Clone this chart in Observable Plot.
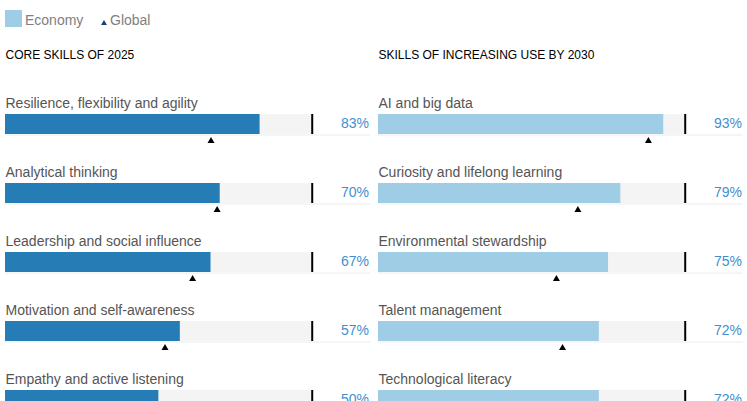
<!DOCTYPE html>
<html><head><meta charset="utf-8">
<script src="https://cdn.jsdelivr.net/npm/d3@7"></script>
<script src="https://cdn.jsdelivr.net/npm/@observablehq/plot@0.6"></script>
<style>
html,body{margin:0;padding:0;background:#fff;overflow:hidden;width:747px;height:401px}
body{font-family:"Liberation Sans",Arial,Helvetica,sans-serif}
#legend{position:relative;height:36px}
#legend .sw{position:absolute;left:5px;top:10px;width:17px;height:17px;background:#a0cde6}
#legend .lab{position:absolute;top:13px;font-size:14px;line-height:14px;color:#808080;white-space:nowrap}
#legend svg{position:absolute;left:100px;top:19px}
#charts{display:flex;position:relative;height:365px;overflow:hidden}
#charts svg{display:block;flex:none}
</style></head><body>
<div id="legend">
  <div class="sw"></div>
  <div class="lab" style="left:25px">Economy</div>
  <svg width="8" height="7" viewBox="0 0 8 7"><path d="M4 1 L7 6 L1 6 Z" fill="#1d3f73"/></svg>
  <div class="lab" style="left:110px">Global</div>
</div>
<div id="charts"></div>
<script>
// ---- data ----
const coreTitle = "CORE SKILLS OF 2025";
const coreSkills = [
  "Resilience, flexibility and agility",
  "Analytical thinking",
  "Leadership and social influence",
  "Motivation and self-awareness",
  "Empathy and active listening"
];
const coreEconomy = [83, 70, 67, 57, 50];
const coreGlobal = [67, 69, 61, 52, null];

const increasingTitle = "SKILLS OF INCREASING USE BY 2030";
const increasingSkills = [
  "AI and big data",
  "Curiosity and lifelong learning",
  "Environmental stewardship",
  "Talent management",
  "Technological literacy"
];
const increasingEconomy = [93, 79, 75, 72, 72];
const increasingGlobal = [88, 65, 58, 60, null];

const fullScale = 100;

function panel(title, skills, economy, global, color, width, marginRight) {
  const rows = skills.map((s, i) => ({rank: i + 1, skill: s, value: economy[i], global: global[i]}));
  const inset = {insetTop: 22, insetBottom: 27};
  return Plot.plot({
    width, height: 365,
    marginLeft: 5, marginRight, marginTop: 56, marginBottom: 0,
    x: {domain: [0, 119], axis: null},
    y: {type: "band", domain: rows.map(d => d.rank), range: [56, 401], padding: 0, axis: null},
    style: {fontFamily: '"Liberation Sans", Arial, Helvetica, sans-serif', background: "white", overflow: "hidden"},
    marks: [
      Plot.text([title], {frameAnchor: "top-left", lineAnchor: "middle", dy: -37, fontSize: 12, fill: "#000"}),
      Plot.ruleY(rows, {y: "rank", dy: 8, stroke: "#ececec", strokeWidth: 1}),
      Plot.barX(rows, {y: "rank", x1: d => 0, x2: d => fullScale, fill: "#f4f4f4", ...inset}),
      Plot.barX(rows, {y: "rank", x: "value", fill: color, ...inset}),
      Plot.tickX(rows, {y: "rank", x: d => fullScale, stroke: "#000", strokeWidth: 2, ...inset}),
      Plot.text(rows, {y: "rank", x: d => 0, text: "skill", textAnchor: "start", dy: -23.7, fontSize: 14, fill: "#555"}),
      Plot.text(rows, {y: "rank", frameAnchor: "right", text: d => d.value + "%", textAnchor: "end", dx: -1.5, dy: -3.7, fontSize: 14, fill: "#3f8fcf"}),
      Plot.dot(rows.filter(d => d.global != null), {y: "rank", x: "global", symbol: "triangle", r: 2.6, fill: "#000", stroke: "none", dy: 14})
    ]
  });
}

const charts = document.getElementById("charts");
charts.append(panel(coreTitle, coreSkills, coreEconomy, coreGlobal, "#267cb4", 373, 3));
charts.append(panel(increasingTitle, increasingSkills, increasingEconomy, increasingGlobal, "#a0cde6", 374, 4));
</script>
</body></html>
